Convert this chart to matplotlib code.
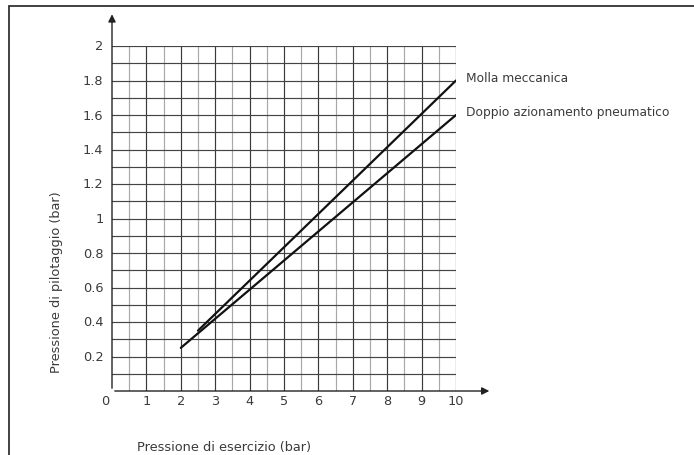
import matplotlib.pyplot as plt
import numpy as np
from matplotlib.patches import Rectangle

# dati
molla_x = [2.5, 10]
molla_y = [0.35, 1.8]
doppio_x = [2, 10]
doppio_y = [0.25, 1.6]
x_ticks = [0, 1, 2, 3, 4, 5, 6, 7, 8, 9, 10]
y_ticks = [0.2, 0.4, 0.6, 0.8, 1, 1.2, 1.4, 1.6, 1.8, 2]
y_tick_labels = ['0.2', '0.4', '0.6', '0.8', '1', '1.2', '1.4', '1.6', '1.8', '2']

W, H = 694, 456
fig = plt.figure(figsize=(W/100, H/100), dpi=100)
ax = fig.add_axes([112/W, (H-392)/H, 344/W, 345/H])
ax.set_xlim(0, 10)
ax.set_ylim(0, 2)
ax.set_axis_off()

txt = '#3a3a3a'
fs = 9.3

# griglia
for xv in np.arange(0.5, 10.01, 0.5):
    c = '#3a3a3a' if xv == int(xv) else '#a8a8a8'
    ax.plot([xv, xv], [0, 2], color=c, lw=0.85, zorder=1)
for yv in np.arange(0.1, 2.01, 0.1):
    ax.plot([0, 10], [yv, yv], color='#444444', lw=0.85, zorder=1)

# assi con frecce
ax.annotate('', xy=(11.05, 0), xytext=(0, 0), annotation_clip=False,
            arrowprops=dict(arrowstyle='-|>', color='#222222', lw=1.0, mutation_scale=11))
ax.annotate('', xy=(0, 2.2), xytext=(0, 0), annotation_clip=False,
            arrowprops=dict(arrowstyle='-|>', color='#222222', lw=1.0, mutation_scale=11))

# curve
ax.plot(molla_x, molla_y, color='#111111', lw=1.6, zorder=3, solid_capstyle='round')
ax.plot(doppio_x, doppio_y, color='#111111', lw=1.6, zorder=3, solid_capstyle='round')

ax.text(10.3, 1.8, 'Molla meccanica', fontsize=8.8, color=txt, va='baseline', ha='left')
ax.text(10.3, 1.6, 'Doppio azionamento pneumatico', fontsize=8.8, color=txt, va='baseline', ha='left')

# etichette tick
for xv in x_ticks:
    off = -0.2 if xv == 0 else 0
    ax.text(xv + off, -0.055, str(xv), fontsize=fs, color=txt, ha='center', va='center')
for yv, lab in zip(y_ticks, y_tick_labels):
    ax.text(-0.25, yv, lab, fontsize=fs, color=txt, ha='right', va='center')

fig.text(224/W, 1 - 448/H, 'Pressione di esercizio (bar)', fontsize=fs, color=txt,
         ha='center', va='center')
fig.text(57/W, 1 - 282/H, 'Pressione di pilotaggio (bar)', fontsize=fs, color=txt,
         ha='center', va='center', rotation=90)

# cornice
fig.patches.append(Rectangle((9/W, -0.1), 1.2, 1 - 7/H + 0.1, transform=fig.transFigure,
                             fill=False, edgecolor='#333333', lw=1.3))

fig.savefig('out.png', dpi=100)
